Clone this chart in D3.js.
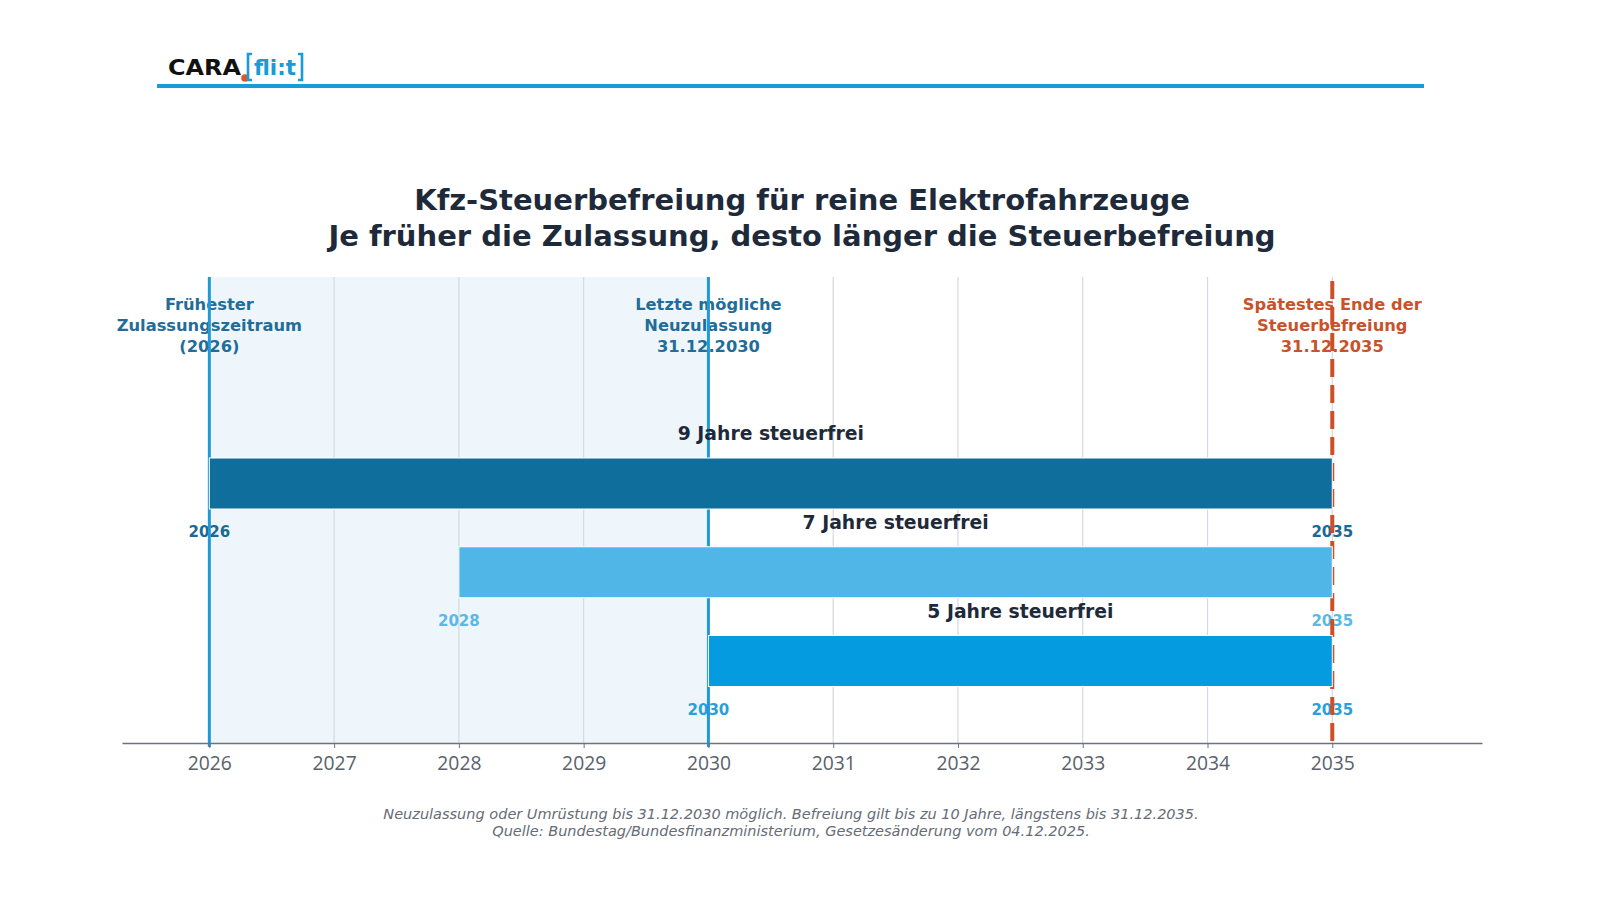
<!DOCTYPE html>
<html>
<head>
<meta charset="utf-8">
<script src="https://cdn.jsdelivr.net/npm/d3@7"></script>
<style>
  body { margin: 0; background: #fff; }
  svg { display: block; font-family: "DejaVu Sans", sans-serif; }
</style>
</head>
<body>
<div id="vis"></div>
<script>

// data
var rows = ['r9', 'r7', 'r5'];
var startYears = [2026, 2028, 2030];
var endYears = [2035, 2035, 2035];
var barLabels = ['9 Jahre steuerfrei', '7 Jahre steuerfrei', '5 Jahre steuerfrei'];
var tickYears = [2026, 2027, 2028, 2029, 2030, 2031, 2032, 2033, 2034, 2035];
var shadeRange = [2026, 2030];
var markers = [
  { year: 2026, lines: ['Frühester', 'Zulassungszeitraum', '(2026)'], kind: 'blue' },
  { year: 2030, lines: ['Letzte mögliche', 'Neuzulassung', '31.12.2030'], kind: 'blue' },
  { year: 2035, lines: ['Spätestes Ende der', 'Steuerbefreiung', '31.12.2035'], kind: 'red' }
];
var titleLines = ['Kfz-Steuerbefreiung für reine Elektrofahrzeuge',
                  'Je früher die Zulassung, desto länger die Steuerbefreiung'];
var footLines = ['Neuzulassung oder Umrüstung bis 31.12.2030 möglich. Befreiung gilt bis zu 10 Jahre, längstens bis 31.12.2035.',
                 'Quelle: Bundestag/Bundesfinanzministerium, Gesetzesänderung vom 04.12.2025.'];

var barColors = ['#0f6e9b', '#4fb6e7', '#049be0'];
var yearColors = ['#1b6892', '#5ab9e6', '#2a9fd9'];

var width = 1600, height = 900;
var plotTop = 277, axisY = 743;

var svg = d3.select('#vis').append('svg')
  .attr('width', width)
  .attr('height', height);

// header / logo
svg.append('rect')
  .attr('x', 157).attr('y', 84)
  .attr('width', 1267).attr('height', 4)
  .attr('fill', '#1a9ad6');

var logo = svg.append('g');
logo.append('text')
  .text('CARA')
  .attr('x', 168).attr('y', 75)
  .attr('font-size', 21).attr('font-weight', 900)
  .attr('textLength', 73).attr('lengthAdjust', 'spacingAndGlyphs')
  .attr('fill', '#111');
logo.append('circle')
  .attr('cx', 245).attr('cy', 78).attr('r', 3.8)
  .attr('fill', '#e0562a');
logo.append('path')
  .attr('d', 'M252,54 H248 V80 H252 M298,54 H302 V80 H298')
  .attr('fill', 'none')
  .attr('stroke', '#1a9ad6').attr('stroke-width', 2.6);
logo.append('text')
  .text('fli:t')
  .attr('x', 254).attr('y', 75)
  .attr('font-size', 21).attr('font-weight', 'bold')
  .attr('textLength', 42).attr('lengthAdjust', 'spacingAndGlyphs')
  .attr('fill', '#1a9ad6');

// title
svg.selectAll('.title')
  .data(titleLines)
  .enter().append('text')
  .attr('class', 'title')
  .attr('x', 802)
  .attr('y', function(d, i) { return 210 + i * 36; })
  .attr('text-anchor', 'middle')
  .attr('font-size', 29).attr('font-weight', 'bold')
  .attr('fill', '#1e2a3a')
  .text(function(d) { return d; });

// scales
var x = d3.scaleLinear()
  .domain([2025.3, 2036.2])
  .range([122, 1482]);

var y = d3.scalePoint()
  .domain(rows)
  .range([483.5, 661]);

var barH = 51;

// shaded area
svg.append('rect')
  .attr('x', x(shadeRange[0]))
  .attr('y', plotTop)
  .attr('width', x(shadeRange[1]) - x(shadeRange[0]))
  .attr('height', axisY - plotTop)
  .attr('fill', '#eef6fb');

// grid
svg.selectAll('.grid')
  .data(tickYears)
  .enter().append('line')
  .attr('class', 'grid')
  .attr('x1', function(d) { return x(d); })
  .attr('x2', function(d) { return x(d); })
  .attr('y1', plotTop).attr('y2', axisY)
  .attr('stroke', '#d3d9e0').attr('stroke-width', 1.2);

// marker annotations
markers.forEach(function(m) {
  var col = m.kind === 'red' ? '#c8532b' : '#1f6d98';
  svg.append('g').selectAll('text')
    .data(m.lines)
    .enter().append('text')
    .attr('x', x(m.year))
    .attr('y', function(d, i) { return 310 + i * 20.8; })
    .attr('text-anchor', 'middle')
    .attr('font-size', 16.3).attr('font-weight', 'bold')
    .attr('fill', col)
    .text(function(d) { return d; });
});

// year labels under bars
rows.forEach(function(r, i) {
  [startYears[i], endYears[i]].forEach(function(yr) {
    svg.append('text')
      .attr('x', x(yr))
      .attr('y', y(r) + barH / 2 + 28)
      .attr('text-anchor', 'middle')
      .attr('font-size', 15).attr('font-weight', 'bold')
      .attr('fill', yearColors[i])
      .text(yr);
  });
});

// marker lines
markers.forEach(function(m) {
  var ln = svg.append('line')
    .attr('x1', x(m.year)).attr('x2', x(m.year))
    .attr('y1', plotTop).attr('y2', axisY + 4);
  if (m.kind === 'red') {
    ln.attr('stroke', '#cc4f26').attr('stroke-width', 4)
      .attr('stroke-dasharray', '18,8')
      .attr('y1', plotTop + 4);
  } else {
    ln.attr('stroke', '#1f9ad6').attr('stroke-width', 3);
  }
});

// bars
svg.selectAll('.bar')
  .data(rows)
  .enter().append('rect')
  .attr('class', 'bar')
  .attr('x', function(d, i) { return x(startYears[i]); })
  .attr('y', function(d) { return y(d) - barH / 2; })
  .attr('width', function(d, i) { return x(endYears[i]) - x(startYears[i]); })
  .attr('height', barH)
  .attr('fill', function(d, i) { return barColors[i]; })
  .attr('stroke', '#fff').attr('stroke-width', 1);

svg.selectAll('.barlabel')
  .data(rows)
  .enter().append('text')
  .attr('class', 'barlabel')
  .attr('x', function(d, i) { return (x(startYears[i]) + x(endYears[i])) / 2; })
  .attr('y', function(d) { return y(d) - barH / 2 - 18; })
  .attr('text-anchor', 'middle')
  .attr('font-size', 18.8).attr('font-weight', 'bold')
  .attr('fill', '#1e2a3a')
  .text(function(d, i) { return barLabels[i]; });

// axis
var axis = svg.append('g')
  .attr('transform', 'translate(0,' + axisY + ')')
  .call(d3.axisBottom(x)
    .tickValues(tickYears)
    .tickFormat(d3.format('d'))
    .tickSize(5)
    .tickSizeOuter(0)
    .tickPadding(8));
axis.select('.domain').attr('stroke', '#6b7280').attr('stroke-width', 1.5);
axis.selectAll('.tick line').attr('stroke', '#6b7280');
axis.selectAll('.tick text')
  .attr('font-family', '"Open Sans", sans-serif')
  .attr('font-size', 19.3)
  .attr('fill', '#5a616b');

// footer
svg.selectAll('.foot')
  .data(footLines)
  .enter().append('text')
  .attr('class', 'foot')
  .attr('x', 791)
  .attr('y', function(d, i) { return 819 + i * 16.5; })
  .attr('text-anchor', 'middle')
  .attr('font-style', 'italic')
  .attr('font-size', 14.5)
  .attr('fill', '#666c75')
  .text(function(d) { return d; });

</script>
</body>
</html>
